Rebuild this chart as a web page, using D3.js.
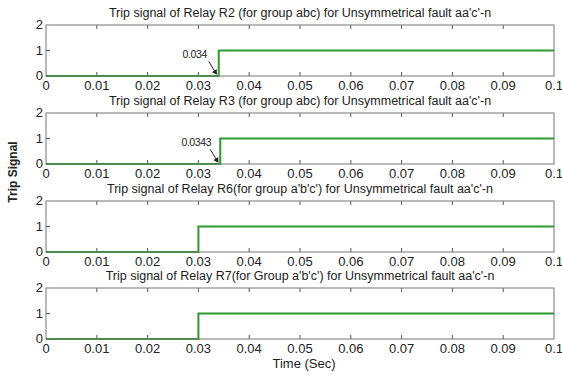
<!DOCTYPE html>
<html>
<head>
<meta charset="utf-8">
<script src="https://cdn.jsdelivr.net/npm/d3@7"></script>
<style>
  body { margin: 0; background: #fff; }
  text { font-family: "Liberation Sans", Arial, sans-serif; fill: #222; }
</style>
</head>
<body>
<div id="chart"></div>
<script>
var svgWidth = 562;
var svgHeight = 377;

// chart data
var titles = [
  "Trip signal of Relay R2 (for group abc) for Unsymmetrical fault aa'c'-n",
  "Trip signal of Relay R3 (for group abc) for Unsymmetrical fault aa'c'-n",
  "Trip signal of Relay R6(for group a'b'c') for Unsymmetrical fault aa'c'-n",
  "Trip signal of Relay R7(for Group a'b'c') for Unsymmetrical fault aa'c'-n"
];
var timeR2 = [0, 0.034, 0.034, 0.1];
var timeR3 = [0, 0.0343, 0.0343, 0.1];
var timeR6 = [0, 0.03, 0.03, 0.1];
var timeR7 = [0, 0.03, 0.03, 0.1];
var signal = [0, 0, 1, 1];
var series = [timeR2, timeR3, timeR6, timeR7];
var annotations = ["0.034", "0.0343", null, null];
var annotationTimes = [0.034, 0.0343, null, null];
var xTicks = [0, 0.01, 0.02, 0.03, 0.04, 0.05, 0.06, 0.07, 0.08, 0.09, 0.1];
var yTicks = [0, 1, 2];

var margin = { left: 46, right: 8 };
var panelTops = [25, 113, 201, 288];
var panelHeight = 51;
var width = svgWidth - margin.left - margin.right;

var svg = d3.select("#chart")
  .append("svg")
  .attr("width", svgWidth)
  .attr("height", svgHeight);

var xScale = d3.scaleLinear().domain([0, 0.1]).range([0, width]);
var yScale = d3.scaleLinear().domain([0, 2]).range([panelHeight, 0]);

var fmt = function(d) { return d === 0 ? "0" : d === 0.1 ? "0.1" : d3.format(".2f")(d); };

var line = d3.line()
  .x(d => xScale(d[0]))
  .y(d => yScale(d[1]));

series.forEach(function(times, i) {
  var g = svg.append("g")
    .attr("transform", `translate(${margin.left}, ${panelTops[i]})`);

  // title
  g.append("text")
    .attr("x", width / 2 + 0)
    .attr("y", -8)
    .attr("text-anchor", "middle")
    .attr("font-size", "12.5px")
    .text(titles[i]);

  // inner ticks, matlab style
  xTicks.slice(1, -1).forEach(function(t) {
    g.append("line").attr("x1", xScale(t)).attr("x2", xScale(t))
      .attr("y1", panelHeight).attr("y2", panelHeight - 4).attr("stroke", "#555");
    g.append("line").attr("x1", xScale(t)).attr("x2", xScale(t))
      .attr("y1", 0).attr("y2", 4).attr("stroke", "#555");
  });
  yTicks.slice(1, -1).forEach(function(t) {
    g.append("line").attr("x1", 0).attr("x2", 4)
      .attr("y1", yScale(t)).attr("y2", yScale(t)).attr("stroke", "#555");
    g.append("line").attr("x1", width).attr("x2", width - 4)
      .attr("y1", yScale(t)).attr("y2", yScale(t)).attr("stroke", "#555");
  });

  // tick labels
  g.selectAll(".xl")
    .data(xTicks)
    .enter()
    .append("text")
    .attr("x", d => xScale(d))
    .attr("y", panelHeight + 14)
    .attr("text-anchor", "middle")
    .attr("font-size", "13px")
    .text(fmt);

  g.selectAll(".yl")
    .data(yTicks)
    .enter()
    .append("text")
    .attr("x", -3)
    .attr("y", d => yScale(d) + 4)
    .attr("text-anchor", "end")
    .attr("font-size", "13px")
    .text(d => d);

  // signal
  g.append("path")
    .datum(times.map((t, j) => [t, signal[j]]))
    .attr("d", line)
    .attr("fill", "none")
    .attr("stroke", "#2e9a2e")
    .attr("stroke-width", 2);

  // frame
  g.append("rect")
    .attr("width", width)
    .attr("height", panelHeight)
    .attr("fill", "none")
    .attr("stroke", "#777")
    .attr("stroke-width", 1);

  // data tip annotation
  if (annotations[i]) {
    var ax = xScale(annotationTimes[i]);
    g.append("text")
      .attr("x", ax - 24)
      .attr("y", yScale(1) + 7)
      .attr("text-anchor", "middle")
      .attr("font-size", "10.5px")
      .attr("letter-spacing", "-0.4px")
      .text(annotations[i]);
    g.append("line")
      .attr("x1", ax - 10).attr("y1", yScale(0.5) - 2)
      .attr("x2", ax - 3).attr("y2", yScale(0) - 3)
      .attr("stroke", "#222").attr("stroke-width", 1);
    g.append("path")
      .attr("d", d3.symbol().type(d3.symbolTriangle).size(14))
      .attr("transform", `translate(${ax - 3.5}, ${yScale(0) - 4}) rotate(145)`)
      .attr("fill", "#222");
  }
});

// axis labels
svg.append("text")
  .attr("x", 304)
  .attr("y", 368)
  .attr("text-anchor", "middle")
  .attr("font-size", "13px")
  .text("Time (Sec)");

svg.append("text")
  .attr("transform", "translate(17, 172) rotate(-90)")
  .attr("text-anchor", "middle")
  .attr("font-size", "12px")
  .attr("font-weight", "bold")
  .text("Trip Signal");
</script>
</body>
</html>
